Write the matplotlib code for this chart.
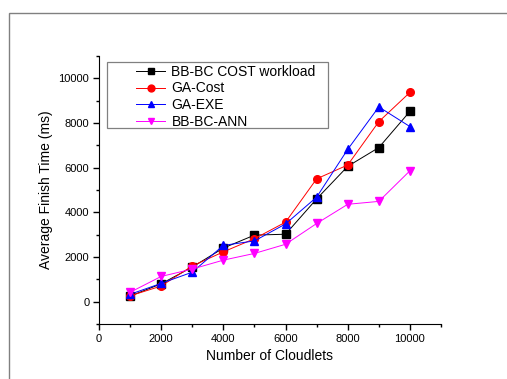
import matplotlib
matplotlib.use("Agg")
import matplotlib.pyplot as plt
from matplotlib.patches import Rectangle
from matplotlib.ticker import MultipleLocator

plt.rcParams['font.family'] = ['Liberation Sans', 'DejaVu Sans']

cloudlets = [1000, 2000, 3000, 4000, 5000, 6000, 7000, 8000, 9000, 10000]
bbbc_cost = [250, 800, 1550, 2400, 2980, 3020, 4600, 6060, 6900, 8520]
ga_cost = [260, 700, 1600, 2230, 2820, 3560, 5500, 6120, 8060, 9370]
ga_exe = [330, 820, 1320, 2520, 2720, 3480, 4680, 6820, 8720, 7840]
bbbc_ann = [420, 1130, 1460, 1860, 2160, 2570, 3500, 4360, 4490, 5860]

series = [
    ("BB-BC COST workload", bbbc_cost, "black", "s"),
    ("GA-Cost", ga_cost, "red", "o"),
    ("GA-EXE", ga_exe, "blue", "^"),
    ("BB-BC-ANN", bbbc_ann, "#FF00FF", "v"),
]

W, H = 507, 379
fig = plt.figure(figsize=(W / 100, H / 100), dpi=100)
fig.patch.set_facecolor("white")
ax_l, ax_r, ax_t, ax_b = 99, 441, 56, 324
ax = fig.add_axes([ax_l / W, 1 - ax_b / H, (ax_r - ax_l) / W, (ax_b - ax_t) / H])

for label, vals, col, mk in series:
    ax.plot(cloudlets, vals, color=col, lw=0.7, marker=mk, markersize=5.5,
            markeredgecolor=col, markerfacecolor=col, label=label)

ax.set_xlim(0, 11000)
ax.set_ylim(-1000, 11000)
ax.xaxis.set_major_locator(MultipleLocator(2000))
ax.xaxis.set_minor_locator(MultipleLocator(1000))
ax.yaxis.set_minor_locator(MultipleLocator(1000))
ax.set_yticks([0, 2000, 4000, 6000, 8000, 10000])
ax.spines['top'].set_visible(False)
ax.spines['right'].set_visible(False)
ax.tick_params(which='major', direction='out', length=4, width=1, labelsize=8, pad=3)
ax.tick_params(which='minor', direction='out', length=2.5, width=1)
ax.set_xlabel("Number of Cloudlets", fontsize=10, labelpad=4)
ax.set_ylabel("Average Finish Time (ms)", fontsize=10, labelpad=4)

aw, ah = ax_r - ax_l, ax_b - ax_t
leg = ax.legend(loc='upper left',
                bbox_to_anchor=((136 - ax_l) / aw, (ax_b - 65) / ah),
                fontsize=10, frameon=False,
                handlelength=2.1, borderpad=0, labelspacing=0.18,
                handletextpad=0.45, borderaxespad=0, markerscale=0.9)

box = Rectangle(((107 - ax_l) / aw, (ax_b - 128) / ah),
                (328 - 107) / aw, (128 - 62) / ah, transform=ax.transAxes,
                fill=False, edgecolor='gray', lw=0.9, clip_on=False, zorder=5)
ax.add_patch(box)

frame = Rectangle((9 / W, -0.1), 1.2, 1.1 - 13 / H, transform=fig.transFigure,
                  fill=False, edgecolor='gray', lw=1, clip_on=False)
fig.patches.append(frame)

fig.savefig("out.png", dpi=100)
